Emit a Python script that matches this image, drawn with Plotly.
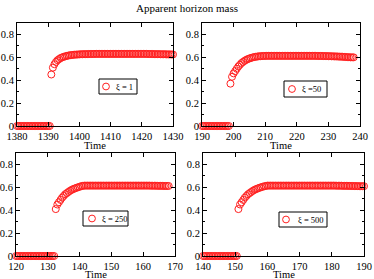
import plotly.graph_objects as go

# ---------------- data ----------------
TITLE = "Apparent horizon mass"
X_LABEL = "Time"
LABELS = ["ξ = 1", "ξ =50", "ξ = 250", "ξ = 500"]
T_START = [1380.0, 190.0, 120.0, 140.0]
T_STEP = 0.5
X_RANGES = [[1380, 1430], [190, 240], [120, 170], [140, 190]]
Y_RANGE = [0, 0.9]

mass_xi1 = [
    0, 0, 0, 0, 0, 0, 0, 0, 0, 0, 0, 0, 0, 0, 0, 0, 0, 0, 0, 0, 0, 0,
    0.45, 0.51, 0.54, 0.56, 0.575, 0.585, 0.594, 0.600, 0.605, 0.609,
    0.613, 0.616, 0.618, 0.620, 0.622, 0.623, 0.624, 0.625, 0.626,
    0.627, 0.627, 0.628, 0.628, 0.628, 0.629, 0.629, 0.629, 0.629, 0.630,
    0.630, 0.630, 0.630, 0.630, 0.630, 0.630, 0.630, 0.630, 0.630, 0.630,
    0.630, 0.630, 0.630, 0.630, 0.630, 0.630, 0.630, 0.630, 0.630, 0.630,
    0.630, 0.630, 0.630, 0.630, 0.630, 0.630, 0.630, 0.630, 0.630, 0.630,
    0.630, 0.630, 0.630, 0.629, 0.629, 0.629, 0.629, 0.628, 0.628, 0.628,
    0.628, 0.627, 0.627, 0.627, 0.627, 0.626, 0.626, 0.626, 0.625, 0.625,
]

mass_xi50 = [
    0, 0, 0, 0, 0, 0, 0, 0, 0, 0, 0, 0, 0, 0, 0, 0, 0, 0,
    0.37, 0.43, 0.46, 0.48, 0.50, 0.52, 0.535, 0.55, 0.56, 0.57,
    0.578, 0.585, 0.590, 0.595, 0.599, 0.602, 0.605, 0.607, 0.609, 0.610,
    0.611, 0.612, 0.612, 0.613, 0.613, 0.613, 0.613, 0.613, 0.613, 0.613,
    0.613, 0.613, 0.613, 0.613, 0.613, 0.613, 0.613, 0.613, 0.613, 0.613,
    0.613, 0.613, 0.613, 0.613, 0.613, 0.613, 0.613, 0.613, 0.613, 0.613,
    0.613, 0.613, 0.613, 0.613, 0.613, 0.612, 0.612, 0.612, 0.612, 0.611,
    0.611, 0.611, 0.610, 0.610, 0.609, 0.609, 0.608, 0.608, 0.607, 0.606,
    0.606, 0.605, 0.604, 0.603, 0.602, 0.601, 0.600, 0.600, 0.600,
]

mass_xi250 = [
    0, 0, 0, 0, 0, 0, 0, 0, 0, 0, 0, 0, 0, 0, 0, 0, 0, 0, 0, 0, 0, 0, 0, 0, 0,
    0.41, 0.45, 0.47, 0.49, 0.51, 0.525, 0.54, 0.55, 0.56, 0.57,
    0.578, 0.585, 0.590, 0.596, 0.600, 0.605, 0.610, 0.613, 0.615, 0.615,
    0.615, 0.615, 0.615, 0.615, 0.615, 0.615, 0.615, 0.615, 0.615, 0.615,
    0.615, 0.615, 0.615, 0.615, 0.615, 0.615, 0.615, 0.615, 0.615, 0.615,
    0.615, 0.615, 0.615, 0.615, 0.615, 0.615, 0.615, 0.615, 0.615, 0.615,
    0.615, 0.615, 0.615, 0.615, 0.615, 0.615, 0.615, 0.615, 0.615, 0.615,
    0.614, 0.614, 0.614, 0.614, 0.613, 0.613, 0.613, 0.613, 0.612, 0.612,
    0.612, 0.612,
]

mass_xi500 = [
    0, 0, 0, 0, 0, 0, 0, 0, 0, 0, 0, 0, 0, 0, 0, 0, 0, 0, 0, 0, 0, 0,
    0.41, 0.45, 0.47, 0.49, 0.51, 0.525, 0.54, 0.55, 0.56, 0.57,
    0.578, 0.585, 0.590, 0.596, 0.600, 0.605, 0.609, 0.612, 0.615,
    0.615, 0.615, 0.615, 0.615, 0.615, 0.615, 0.615, 0.615, 0.615, 0.615,
    0.615, 0.615, 0.615, 0.615, 0.615, 0.615, 0.615, 0.615, 0.615, 0.615,
    0.615, 0.615, 0.615, 0.615, 0.615, 0.615, 0.615, 0.615, 0.615, 0.615,
    0.615, 0.615, 0.615, 0.615, 0.615, 0.615, 0.615, 0.615, 0.615, 0.615,
    0.615, 0.615, 0.614, 0.614, 0.614, 0.614, 0.613, 0.613, 0.613, 0.613,
    0.612, 0.612, 0.612, 0.611, 0.611, 0.611, 0.610, 0.610, 0.610, 0.610,
]

SERIES = [mass_xi1, mass_xi50, mass_xi250, mass_xi500]

# ---------------- layout (pixel geometry) ----------------
W, H = 374, 279
FONT = "Liberation Serif"
RED = "#ff2020"

# plot boxes: left, right, top, bottom (px)
BOXES = [(17, 173, 23, 126), (202, 360, 23, 126),
         (16, 175, 153, 256), (203, 364, 153, 256)]
# y position of the "Time" label (px)
XTITLE_Y = [145, 145, 274, 274]
# legend boxes: left, right, top, bottom, circle-x, text-x (px)
LEG = [(99, 137, 79, 94, 106, 114), (284, 327, 81, 97, 292, 300),
       (83, 128, 211, 226, 92, 100), (279, 327, 212, 227, 286, 296)]

fig = go.Figure()
shapes, annotations = [], []

for i, vals in enumerate(SERIES):
    n = i + 1
    xs = [T_START[i] + T_STEP * k for k in range(len(vals))]
    sfx = "" if n == 1 else str(n)
    fig.add_trace(go.Scatter(
        x=xs, y=vals, mode="markers", showlegend=False, name=LABELS[i],
        xaxis="x" + sfx, yaxis="y" + sfx, cliponaxis=False,
        marker=dict(symbol="circle-open", size=7, color=RED,
                    line=dict(width=1, color=RED)),
    ))
    l, r, t, b = BOXES[i]
    common = dict(showline=True, linecolor="black", linewidth=1, mirror="ticks",
                  ticks="inside", tickcolor="black", showgrid=False, zeroline=False,
                  automargin=False,
                  tickfont=dict(family=FONT, size=10.5, color="black"))
    fig.layout["xaxis" + sfx] = dict(
        domain=[l / W, r / W], range=X_RANGES[i], anchor="y" + sfx,
        dtick=10, ticklen=4, **common)
    fig.layout["yaxis" + sfx] = dict(
        domain=[1 - b / H, 1 - t / H], range=Y_RANGE, anchor="x" + sfx,
        tickvals=[0, 0.2, 0.4, 0.6, 0.8], ticktext=["0", "0.2", "0.4", "0.6", "0.8"],
        ticklen=4, minor=dict(dtick=0.1, ticks="inside", ticklen=2, tickcolor="black"),
        **common)

    annotations.append(dict(text=X_LABEL, xref="paper", yref="paper",
                            x=(l + r) / 2 / W, y=1 - XTITLE_Y[i] / H,
                            xanchor="center", yanchor="middle", showarrow=False,
                            font=dict(family=FONT, size=10.5, color="black")))

    # legend box drawn in paper space
    ll, lr, lt, lb, cx, tx = LEG[i]
    cy = (lt + lb) / 2
    shapes.append(dict(type="rect", xref="paper", yref="paper",
                       x0=ll / W, x1=lr / W, y0=1 - lb / H, y1=1 - lt / H,
                       line=dict(color="black", width=1), fillcolor="white"))
    shapes.append(dict(type="circle", xref="paper", yref="paper",
                       xsizemode="pixel", ysizemode="pixel",
                       xanchor=cx / W, yanchor=1 - cy / H,
                       x0=-3.4, x1=3.4, y0=-3.4, y1=3.4,
                       line=dict(color=RED, width=1)))
    annotations.append(dict(text=LABELS[i], xref="paper", yref="paper",
                            x=tx / W, y=1 - cy / H, xanchor="left", yanchor="middle",
                            showarrow=False,
                            font=dict(family=FONT, size=8.5, color="black")))

annotations.append(dict(text=TITLE, xref="paper", yref="paper", x=0.5, y=1 - 8 / H,
                        xanchor="center", yanchor="middle", showarrow=False,
                        font=dict(family=FONT, size=11, color="black")))

fig.update_layout(width=W, height=H, margin=dict(l=0, r=0, t=0, b=0),
                  paper_bgcolor="white", plot_bgcolor="white",
                  shapes=shapes, annotations=annotations, showlegend=False)

fig.write_html("out.html",
               config={"displayModeBar": False},
               post_script="document.body.style.margin='0px';"
                           "document.body.style.overflow='hidden';")
